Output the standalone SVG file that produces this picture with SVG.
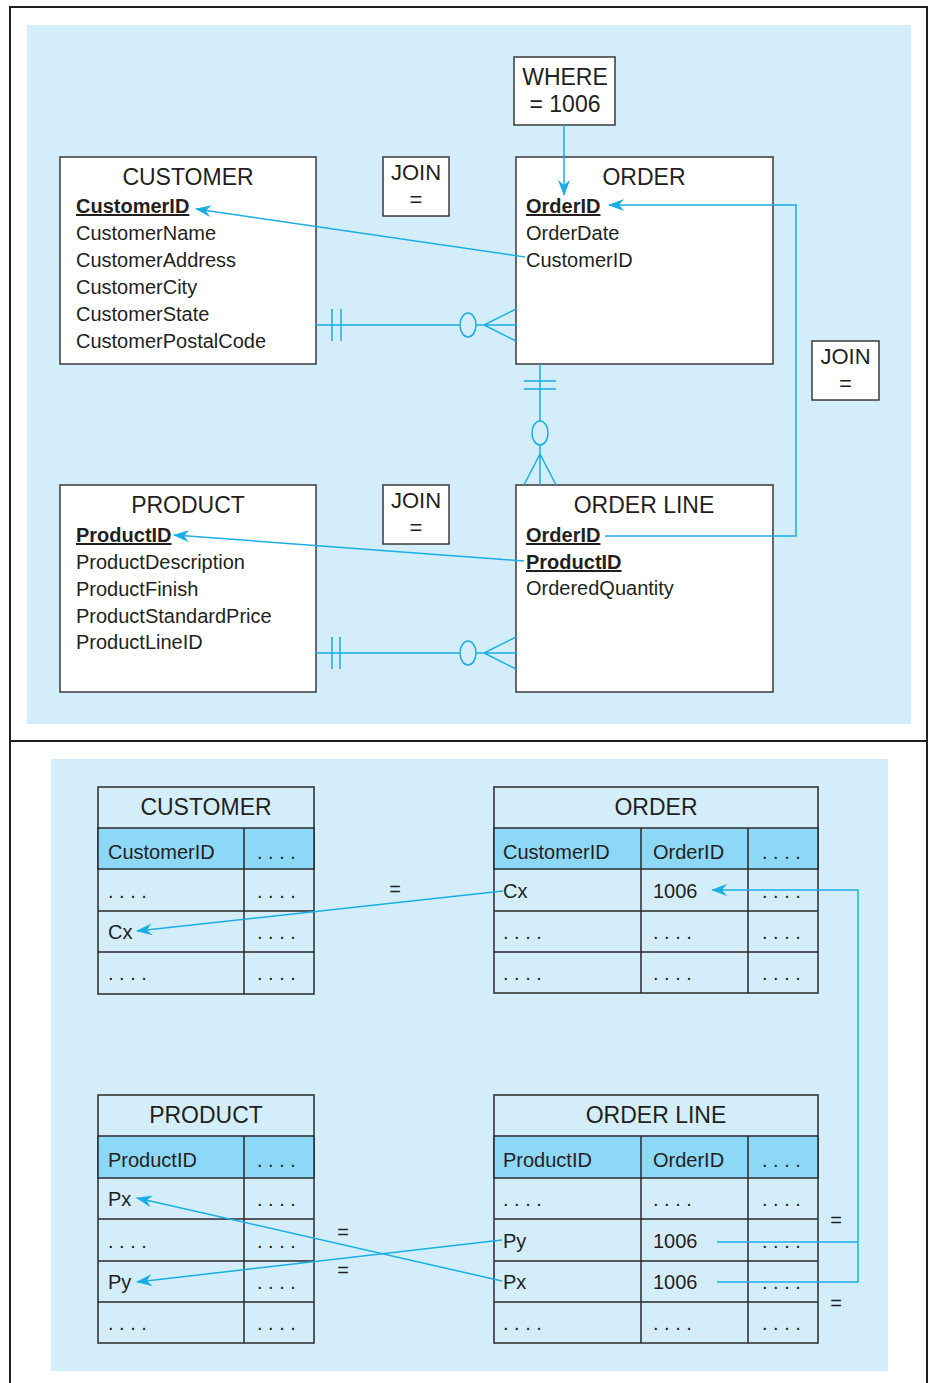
<svg xmlns="http://www.w3.org/2000/svg" width="929" height="1383" viewBox="0 0 929 1383">
<defs>
<marker id="arr" viewBox="0 0 16 12" markerWidth="16" markerHeight="13" markerUnits="userSpaceOnUse" refX="15" refY="6" orient="auto">
<path d="M0,0 L16,6 L0,12 L5,6 Z" fill="#1badE6"/>
</marker>
</defs>
<style>
text{font-family:"Liberation Sans",Arial,sans-serif;fill:#231f20;}
.t{font-size:23px;text-anchor:middle;}
.a{font-size:20px;}
.k{font-size:20px;font-weight:bold;text-decoration:underline;}
.m{font-size:22px;text-anchor:middle;}
.eq{font-size:20px;text-anchor:middle;}
.box{fill:#ffffff;stroke:#3a3a3a;stroke-width:1.5;}
.tb{fill:#d3eefa;stroke:#2a2a2a;stroke-width:1.5;}
.hd{fill:#8ed8f7;stroke:#2a2a2a;stroke-width:1.5;}
.g{stroke:#2a2a2a;stroke-width:1.5;fill:none;}
.c{stroke:#1badE6;stroke-width:1.5;fill:none;}
.o{stroke:#1badE6;stroke-width:1.5;fill:#d3eefa;}
.frame{stroke:#231f20;stroke-width:2;fill:none;}
</style>
<rect x="0" y="0" width="929" height="1383" fill="#ffffff"/>
<g id="frame">
<path class="frame" d="M10,1383 L10,7 L927,7 L927,1383 M10,741 L927,741"/>
<rect x="27" y="25" width="884" height="699" fill="#d3eefa"/>
<rect x="51" y="759" width="837" height="612" fill="#d3eefa"/>
</g>

<g id="where">
<rect class="box" x="514" y="57" width="101" height="68"/>
<text class="t" x="565" y="85">WHERE</text>
<text class="t" x="565" y="112">= 1006</text>
</g>
<g id="join1">
<rect class="box" x="383" y="157" width="66" height="59"/>
<text class="m" x="416" y="180">JOIN</text>
<text class="m" x="416" y="207">=</text>
</g>
<g id="join2">
<rect class="box" x="812" y="341" width="67" height="59"/>
<text class="m" x="845.5" y="364">JOIN</text>
<text class="m" x="845.5" y="391">=</text>
</g>
<g id="join3">
<rect class="box" x="383" y="485" width="66" height="59"/>
<text class="m" x="416" y="508">JOIN</text>
<text class="m" x="416" y="535">=</text>
</g>

<g id="er-customer">
<rect class="box" x="60" y="157" width="256" height="207"/>
<text class="t" x="188" y="185">CUSTOMER</text>
<text class="k" x="76" y="213">CustomerID</text>
<text class="a" x="76" y="240">CustomerName</text>
<text class="a" x="76" y="267">CustomerAddress</text>
<text class="a" x="76" y="294">CustomerCity</text>
<text class="a" x="76" y="321">CustomerState</text>
<text class="a" x="76" y="348">CustomerPostalCode</text>
</g>
<g id="er-order">
<rect class="box" x="516" y="157" width="257" height="207"/>
<text class="t" x="644" y="185">ORDER</text>
<text class="k" x="526" y="213">OrderID</text>
<text class="a" x="526" y="240">OrderDate</text>
<text class="a" x="526" y="267">CustomerID</text>
</g>
<g id="er-product">
<rect class="box" x="60" y="485" width="256" height="207"/>
<text class="t" x="188" y="513">PRODUCT</text>
<text class="k" x="76" y="542">ProductID</text>
<text class="a" x="76" y="569">ProductDescription</text>
<text class="a" x="76" y="596">ProductFinish</text>
<text class="a" x="76" y="623">ProductStandardPrice</text>
<text class="a" x="76" y="649">ProductLineID</text>
</g>
<g id="er-orderline">
<rect class="box" x="516" y="485" width="257" height="207"/>
<text class="t" x="644" y="513">ORDER LINE</text>
<text class="k" x="526" y="542">OrderID</text>
<text class="k" x="526" y="569">ProductID</text>
<text class="a" x="526" y="595">OrderedQuantity</text>
</g>

<g id="tbl-customer">
<rect class="tb" x="98" y="787" width="216" height="207"/>
<rect class="hd" x="98" y="828" width="216" height="41"/>
<path class="g" d="M98,911 H314 M98,952 H314 M244,828 V994"/>
<text class="t" x="206" y="815">CUSTOMER</text>
<text class="a" x="108" y="859">CustomerID</text>
<text class="a" x="257" y="859">. . . .</text>
<text class="a" x="108" y="898">. . . .</text>
<text class="a" x="257" y="898">. . . .</text>
<text class="a" x="108" y="939">Cx</text>
<text class="a" x="257" y="939">. . . .</text>
<text class="a" x="108" y="980">. . . .</text>
<text class="a" x="257" y="980">. . . .</text>
</g>
<g id="tbl-order">
<rect class="tb" x="494" y="787" width="324" height="206"/>
<rect class="hd" x="494" y="828" width="324" height="41"/>
<path class="g" d="M494,911 H818 M494,952 H818 M641,828 V993 M748,828 V993"/>
<text class="t" x="656" y="815">ORDER</text>
<text class="a" x="503" y="859">CustomerID</text>
<text class="a" x="653" y="859">OrderID</text>
<text class="a" x="762" y="859">. . . .</text>
<text class="a" x="503" y="898">Cx</text>
<text class="a" x="653" y="898">1006</text>
<text class="a" x="762" y="898">. . . .</text>
<text class="a" x="503" y="939">. . . .</text>
<text class="a" x="653" y="939">. . . .</text>
<text class="a" x="762" y="939">. . . .</text>
<text class="a" x="503" y="980">. . . .</text>
<text class="a" x="653" y="980">. . . .</text>
<text class="a" x="762" y="980">. . . .</text>
</g>
<g id="tbl-product">
<rect class="tb" x="98" y="1095" width="216" height="248"/>
<rect class="hd" x="98" y="1136" width="216" height="42"/>
<path class="g" d="M98,1219 H314 M98,1261 H314 M98,1302 H314 M244,1136 V1343"/>
<text class="t" x="206" y="1123">PRODUCT</text>
<text class="a" x="108" y="1167">ProductID</text>
<text class="a" x="257" y="1167">. . . .</text>
<text class="a" x="108" y="1206">Px</text>
<text class="a" x="257" y="1206">. . . .</text>
<text class="a" x="108" y="1248">. . . .</text>
<text class="a" x="257" y="1248">. . . .</text>
<text class="a" x="108" y="1289">Py</text>
<text class="a" x="257" y="1289">. . . .</text>
<text class="a" x="108" y="1330">. . . .</text>
<text class="a" x="257" y="1330">. . . .</text>
</g>
<g id="tbl-orderline">
<rect class="tb" x="494" y="1095" width="324" height="248"/>
<rect class="hd" x="494" y="1136" width="324" height="42"/>
<path class="g" d="M494,1219 H818 M494,1261 H818 M494,1302 H818 M641,1136 V1343 M748,1136 V1343"/>
<text class="t" x="656" y="1123">ORDER LINE</text>
<text class="a" x="503" y="1167">ProductID</text>
<text class="a" x="653" y="1167">OrderID</text>
<text class="a" x="762" y="1167">. . . .</text>
<text class="a" x="503" y="1206">. . . .</text>
<text class="a" x="653" y="1206">. . . .</text>
<text class="a" x="762" y="1206">. . . .</text>
<text class="a" x="503" y="1248">Py</text>
<text class="a" x="653" y="1248">1006</text>
<text class="a" x="762" y="1248">. . . .</text>
<text class="a" x="503" y="1289">Px</text>
<text class="a" x="653" y="1289">1006</text>
<text class="a" x="762" y="1289">. . . .</text>
<text class="a" x="503" y="1330">. . . .</text>
<text class="a" x="653" y="1330">. . . .</text>
<text class="a" x="762" y="1330">. . . .</text>
</g>

<g id="connectors">
<line class="c" x1="564" y1="125" x2="564" y2="195" marker-end="url(#arr)"/>
<line class="c" x1="525" y1="257" x2="196" y2="209" marker-end="url(#arr)"/>
<polyline class="c" points="605,536 796,536 796,205 609,205" marker-end="url(#arr)"/>
<line class="c" x1="524" y1="561" x2="174" y2="535" marker-end="url(#arr)"/>

<path class="c" d="M316,325 H516 M332,309 V341 M341,309 V341 M484,325 L516,309 M484,325 L516,341"/>
<ellipse class="o" cx="468" cy="325" rx="8" ry="12"/>
<path class="c" d="M316,653 H516 M332,637 V669 M340,637 V669 M484,653 L516,637 M484,653 L516,669"/>
<ellipse class="o" cx="468" cy="653" rx="8" ry="12"/>
<path class="c" d="M540,364 V485 M524,381 H556 M524,389 H556 M540,454 L524,485 M540,454 L556,485"/>
<ellipse class="o" cx="540" cy="433" rx="8" ry="12"/>

<line class="c" x1="503" y1="891" x2="137" y2="931" marker-end="url(#arr)"/>
<polyline class="c" points="717,1282 858,1282 858,890 712,890" marker-end="url(#arr)"/>
<line class="c" x1="717" y1="1242" x2="858" y2="1242"/>
<line class="c" x1="502" y1="1240" x2="137" y2="1282" marker-end="url(#arr)"/>
<line class="c" x1="502" y1="1281" x2="137" y2="1198" marker-end="url(#arr)"/>
<text class="eq" x="395" y="896">=</text>
<text class="eq" x="343" y="1239">=</text>
<text class="eq" x="343" y="1277">=</text>
<text class="eq" x="836" y="1227">=</text>
<text class="eq" x="836" y="1310">=</text>
</g>
</svg>
